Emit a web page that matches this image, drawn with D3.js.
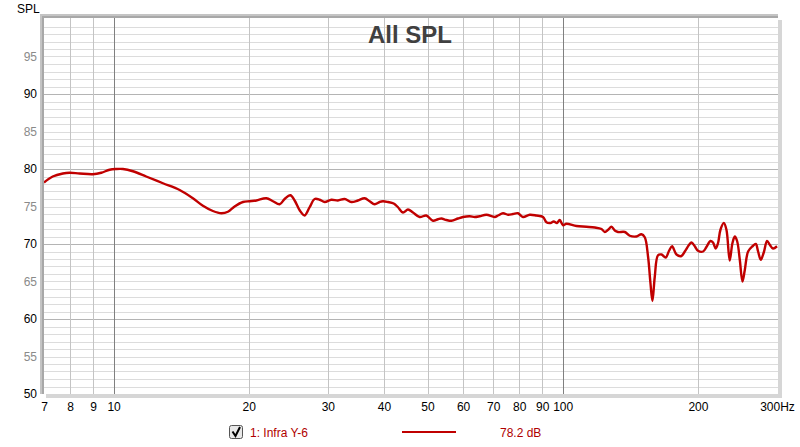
<!DOCTYPE html>
<html><head><meta charset="utf-8">
<script src="https://cdn.jsdelivr.net/npm/d3@7"></script>
<style>
html,body{margin:0;padding:0;background:#fff;}
svg{display:block;font-family:"Liberation Sans",Arial,sans-serif;}
</style></head>
<body><svg id="c" width="800" height="447"></svg>
<script>
const freqs = [7.0,7.32,7.71,7.98,8.40,8.99,9.39,9.80,10.14,10.49,11.04,11.82,12.88,14.03,15.02,15.81,16.64,17.38,17.97,18.60,19.41,20.09,20.79,21.88,22.64,23.43,24.04,24.75,25.30,25.96,26.63,27.32,28.04,28.77,29.52,30.54,31.59,32.69,33.83,35.00,36.22,37.17,38.13,39.12,39.79,40.82,42.04,42.98,44.09,45.24,46.41,48.03,49.70,51.42,52.76,53.68,55.08,56.51,58.46,59.97,62.08,63.68,65.33,67.62,70.57,71.77,73.64,75.55,77.51,79.52,81.59,84.44,87.39,90.40,91.99,93.89,95.49,97.12,98.47,100.2,101.9,107.3,112.9,117.9,122.0,124.1,126.2,128.4,130.6,132.8,137.5,141.0,145.9,149.7,152.3,154.9,156.8,158.4,160.3,163.0,165.9,169.6,172.5,175.2,179.2,183.8,187.0,191.2,193.5,196.8,200.1,205.4,208.9,213.3,216.1,219.1,221.7,224.5,228.4,231.5,235.4,238.7,241.6,244.5,247.9,251.3,254.3,258.7,264.6,269.1,272.3,276.1,280.4,285.1,289.1,294.0,300.0];
const spl = [78.2,79.0,79.4,79.5,79.4,79.3,79.5,79.9,80.0,80.0,79.7,79.0,78.1,77.2,76.1,75.1,74.4,74.1,74.3,75.0,75.6,75.7,75.8,76.1,75.7,75.3,76.0,76.5,75.8,74.5,73.8,74.9,76.0,75.9,75.6,75.9,75.8,76.0,75.6,75.8,76.1,75.7,75.3,75.6,75.7,75.6,75.4,74.9,74.2,74.6,74.2,73.6,73.8,73.1,73.3,73.4,73.2,73.1,73.4,73.6,73.7,73.6,73.7,73.9,73.6,73.8,74.1,73.9,74.0,74.1,73.6,73.9,73.8,73.6,72.9,72.8,73.0,72.8,73.2,72.5,72.7,72.4,72.3,72.2,72.0,71.6,71.9,72.3,71.8,71.6,71.6,71.1,71.0,71.3,70.9,68.3,64.8,62.4,65.6,68.5,68.6,68.2,69.1,69.7,68.6,68.4,69.0,69.9,70.2,69.7,69.1,69.0,69.6,70.4,70.2,69.4,70.1,71.9,72.8,71.9,67.8,70.1,71.0,70.4,67.9,65.0,66.5,69.0,69.7,70.0,69.0,67.9,68.9,70.4,69.9,69.4,69.7];
const xTicks = [7,8,9,10,20,30,40,50,60,70,80,90,100,200,300];
const xTickLabels = ["7","8","9","10","20","30","40","50","60","70","80","90","100","200","300Hz"];
const yTicks = [50,55,60,65,70,75,80,85,90,95];
const title = "All SPL";
const yLabel = "SPL";
const legendName = "1: Infra Y-6";
const legendValue = "78.2 dB";

const svg = d3.select("#c");
const L=44, R=778, T=18, B=394;
const x = d3.scaleLog().domain([7,300]).range([L,777]);
const y = d3.scaleLinear().domain([50,100]).range([B,19]);

// frame
svg.append("rect").attr("x",L+2).attr("y",T+2).attr("width",R-L+2).attr("height",B-T+2).attr("fill","#d6d6d6");
svg.append("rect").attr("x",40).attr("y",14).attr("width",R-40).attr("height",B-14).attr("fill","#c4c4c4");
svg.append("rect").attr("x",42).attr("y",16).attr("width",R-42).attr("height",B-16).attr("fill","#a8a8a8");
svg.append("rect").attr("x",L).attr("y",T).attr("width",R-L).attr("height",B-T).attr("fill","#fff");

const g = svg.append("g");
// horizontal grid every 1 dB
d3.range(51,100).forEach(v=>{
  g.append("line").attr("x1",L).attr("x2",R).attr("y1",Math.round(y(v))+0.5).attr("y2",Math.round(y(v))+0.5)
   .attr("stroke", v%10===0 ? "#b4b4b4" : "#dcdcdc").attr("stroke-width",1);
});
// vertical grid
const vgrid = [8,9,10,20,30,40,50,60,70,80,90,100,200];
vgrid.forEach(f=>{
  g.append("line").attr("y1",T).attr("y2",B).attr("x1",Math.round(x(f))+0.5).attr("x2",Math.round(x(f))+0.5)
   .attr("stroke", (f===10||f===100) ? "#808080" : "#c4c4c4").attr("stroke-width",1);
});

// axes labels
const yAxis = d3.axisLeft(y).tickValues(yTicks).tickSize(0).tickPadding(6).tickFormat(d3.format("d"));
const ya = svg.append("g").attr("transform",`translate(${L-1},0)`).call(yAxis);
ya.select(".domain").remove();
ya.selectAll("text").attr("font-size",12).attr("font-family","Liberation Sans, Arial, sans-serif")
  .attr("fill",d=> d%10===0 ? "#000" : "#8a8a8a");

const xAxis = d3.axisBottom(x).tickValues(xTicks).tickSize(0).tickPadding(8)
  .tickFormat((d,i)=>xTickLabels[i]);
const xa = svg.append("g").attr("transform",`translate(0,${B})`).call(xAxis);
xa.select(".domain").remove();
xa.selectAll("text").attr("font-size",12).attr("font-family","Liberation Sans, Arial, sans-serif").attr("fill","#000");

svg.append("text").attr("x",17).attr("y",13).attr("font-size",12).attr("fill","#000").text(yLabel);
svg.append("text").attr("x",410).attr("y",43).attr("text-anchor","middle")
  .attr("font-size",24).attr("font-weight","bold").attr("fill","#404040").text(title);

// curve
const data = freqs.map((f,i)=>[f,spl[i]]);
const line = d3.line().x(d=>x(d[0])).y(d=>y(d[1])).curve(d3.curveCatmullRom.alpha(0.5));
svg.append("defs").append("clipPath").attr("id","clip").append("rect")
  .attr("x",L).attr("y",T).attr("width",R-L).attr("height",B-T);
svg.append("path").datum(data).attr("d",line).attr("fill","none")
  .attr("stroke","#c00000").attr("stroke-width",2.4).attr("stroke-linejoin","round").attr("clip-path","url(#clip)");

// legend
const lg = svg.append("g");
lg.append("rect").attr("x",229.5).attr("y",425.5).attr("width",13).attr("height",13).attr("rx",2)
  .attr("fill","#e8e8e8").attr("stroke","#555");
lg.append("path").attr("d","M232.5,431.5 L235.5,436 L240,427").attr("fill","none").attr("stroke","#000").attr("stroke-width",2);
lg.append("text").attr("x",250).attr("y",437).attr("font-size",12).attr("fill","#b00000").text(legendName);
lg.append("line").attr("x1",402).attr("x2",456).attr("y1",432).attr("y2",432).attr("stroke","#c00000").attr("stroke-width",2);
lg.append("text").attr("x",500).attr("y",437).attr("font-size",12).attr("fill","#b00000").text(legendValue);
</script></body></html>
